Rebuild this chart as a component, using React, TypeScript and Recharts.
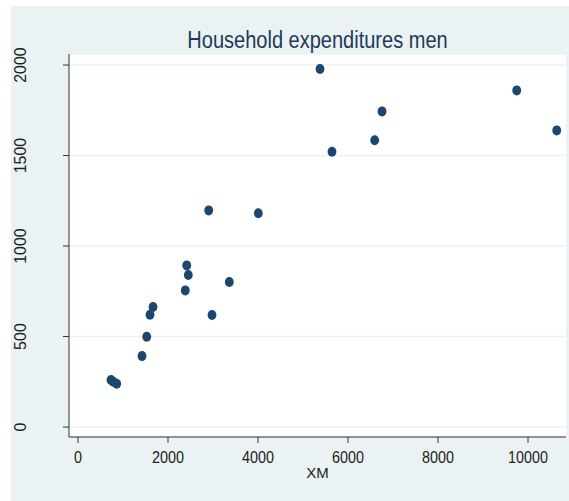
import React from 'react';
import { ScatterChart, Scatter, XAxis, YAxis, CartesianGrid } from 'recharts';

// household expenditures
const xmValues = [5378, 9749, 6756, 10638, 6593, 5644, 2904, 4007, 2416, 2451, 3362, 2384, 1667, 1600, 2978, 1527, 1422, 733, 784, 860];
const expValues = [1978, 1860, 1744, 1639, 1584, 1521, 1197, 1181, 893, 840, 801, 755, 663, 620, 619, 499, 392, 260, 250, 239];
const xTicks = [0, 2000, 4000, 6000, 8000, 10000];
const yTicks = [0, 500, 1000, 1500, 2000];

const points = xmValues.map((x, i) => ({ x, y: expValues[i] }));

const FONT = '"Liberation Sans", Arial, sans-serif';
const NAVY = '#1A476F';

function YTick({ y, payload }: any) {
  return (
    <text
      x={26}
      y={y}
      textAnchor="middle"
      transform={`rotate(-90, 26, ${y})`}
      fontSize={16}
      fontFamily={FONT}
      fill="#222"
    >
      {payload.value}
    </text>
  );
}

// stata text looks a bit narrow, squeeze it horizontally
function XTick({ x, y, payload }: any) {
  return (
    <text
      transform={`translate(${x}, ${y}) scale(0.9, 1)`}
      textAnchor="middle"
      dy="0.71em"
      fontSize={16}
      fontFamily={FONT}
      fill="#222"
    >
      {payload.value}
    </text>
  );
}

function Dot({ cx, cy }: any) {
  return <ellipse cx={cx} cy={cy} rx={4.4} ry={5} fill={NAVY} />;
}

export default function App() {
  return (
    <div style={{ position: 'absolute', left: 0, top: 0, width: 569, height: 501, background: '#fff' }}>
      <div style={{ position: 'absolute', left: 11, top: 6, right: 0, bottom: 0, background: '#EAF2F3' }} />
      <div
        style={{
          position: 'absolute',
          left: 69,
          width: 497,
          top: 29,
          textAlign: 'center',
          fontFamily: FONT,
          fontSize: 23,
          lineHeight: '23px',
          color: '#22395C',
          transform: 'scaleX(0.87)',
          whiteSpace: 'nowrap',
        }}
      >
        Household expenditures men
      </div>
      <div style={{ position: 'absolute', left: 0, top: 0 }}>
        <ScatterChart width={569} height={501} margin={{ top: 54, right: 3, bottom: 23, left: 0 }}>
          <CartesianGrid vertical={false} horizontal stroke="#EAF2F3" strokeWidth={1.5} fill="#fff" fillOpacity={1} />
          <XAxis
            type="number"
            dataKey="x"
            domain={[-200, 10844]}
            allowDataOverflow
            ticks={xTicks}
            interval={0}
            height={41}
            tickSize={6}
            tickMargin={9}
            stroke="#333"
            tick={<XTick />}
            label={{ value: 'XM', position: 'insideBottom', offset: 0, fill: '#222', fontSize: 15, fontFamily: FONT }}
          />
          <YAxis
            type="number"
            dataKey="y"
            domain={[-55, 2061]}
            allowDataOverflow
            ticks={yTicks}
            interval={0}
            width={69}
            tickSize={6}
            stroke="#333"
            tick={<YTick />}
          />
          <Scatter data={points} fill={NAVY} shape={<Dot />} isAnimationActive={false} />
        </ScatterChart>
      </div>
    </div>
  );
}
